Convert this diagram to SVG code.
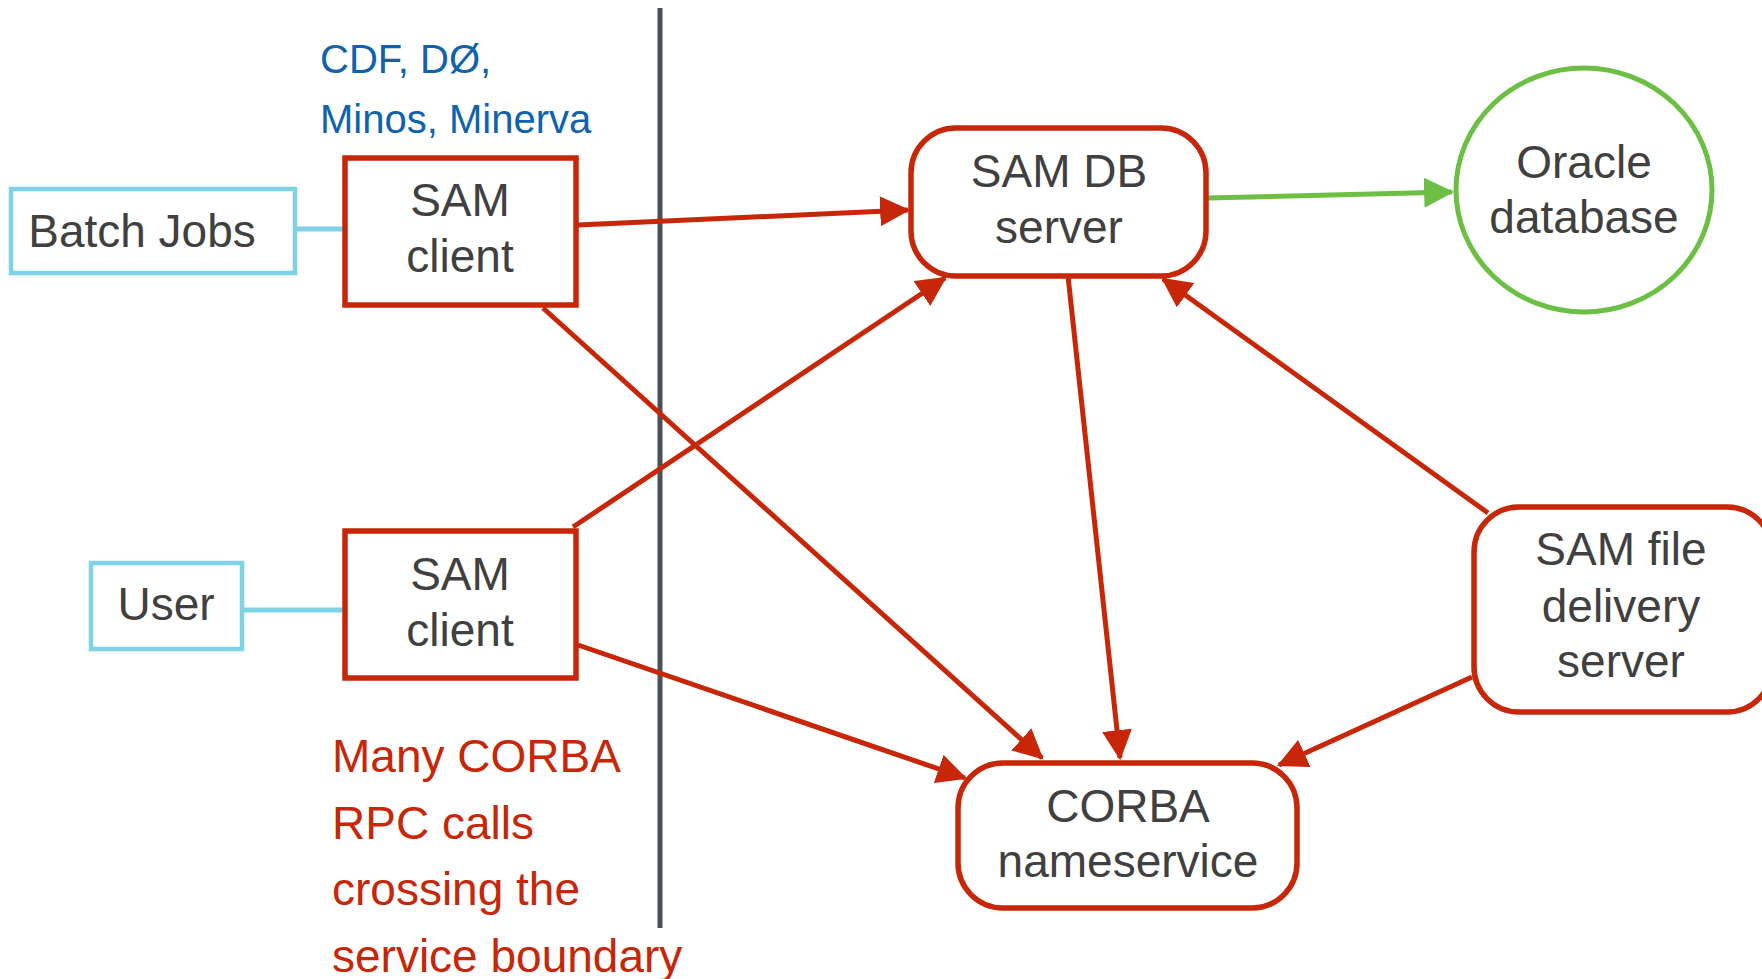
<svg xmlns="http://www.w3.org/2000/svg" width="1762" height="979" viewBox="0 0 1762 979">
<defs>
<marker id="ar" markerUnits="userSpaceOnUse" markerWidth="30" markerHeight="30" viewBox="0 0 28 28" refX="26" refY="14" orient="auto">
<path d="M0,0 L28,14 L0,28 z" fill="#c82608"/>
</marker>
<marker id="ag" markerUnits="userSpaceOnUse" markerWidth="30" markerHeight="30" viewBox="0 0 28 28" refX="26" refY="14" orient="auto">
<path d="M0,0 L28,14 L0,28 z" fill="#6cbf45"/>
</marker>
</defs>
<style>
text{font-family:"Liberation Sans",Arial,Helvetica,sans-serif;}
.nt{font-size:46px;fill:#404040;text-anchor:middle;}
.bb{fill:#fff;stroke:#7fd2e6;stroke-width:4.5;}
.rb{fill:#fff;stroke:#c82608;stroke-width:5.5;}
.e{stroke:#c82608;stroke-width:5;fill:none;marker-end:url(#ar);}
.bl{stroke:#7fd2e6;stroke-width:5;fill:none;}
.blue{font-size:40px;fill:#0f62ad;}
.red{font-size:46px;fill:#c82608;}
</style>
<rect width="1762" height="979" fill="#fff"/>
<line x1="660" y1="8" x2="660" y2="928" stroke="#4b4f57" stroke-width="5"/>
<g id="labels">
<text class="blue" x="320" y="73">CDF, DØ,</text>
<text class="blue" x="320" y="133">Minos, Minerva</text>
<text class="red" x="332" y="772">Many CORBA</text>
<text class="red" x="332" y="839">RPC calls</text>
<text class="red" x="332" y="905">crossing the</text>
<text class="red" x="332" y="972">service boundary</text>
</g>
<g id="connectors">
<line class="bl" x1="295" y1="229" x2="345" y2="229"/>
<line class="bl" x1="242" y1="610" x2="345" y2="610"/>
<line class="e" x1="578" y1="225" x2="908" y2="210"/>
<line class="e" x1="543" y1="308" x2="1042" y2="758"/>
<line class="e" x1="573" y1="527" x2="945" y2="278"/>
<line class="e" x1="578" y1="645" x2="965" y2="778"/>
<line class="e" x1="1068" y1="276" x2="1120" y2="758"/>
<line class="e" x1="1488" y1="513" x2="1163" y2="279"/>
<line class="e" x1="1472" y1="677" x2="1279" y2="765"/>
<line x1="1208" y1="198" x2="1452" y2="192" stroke="#6cbf45" stroke-width="5" marker-end="url(#ag)"/>
</g>
<g id="batch">
<rect class="bb" x="11" y="189" width="284" height="84"/>
<text class="nt" x="142" y="247">Batch Jobs</text>
</g>
<g id="user">
<rect class="bb" x="91" y="563" width="151" height="86"/>
<text class="nt" x="166" y="620">User</text>
</g>
<g id="samclient1">
<rect class="rb" x="345" y="158" width="231" height="147"/>
<text class="nt" x="460" y="216">SAM</text>
<text class="nt" x="460" y="272">client</text>
</g>
<g id="samclient2">
<rect class="rb" x="345" y="531" width="231" height="147"/>
<text class="nt" x="460" y="590">SAM</text>
<text class="nt" x="460" y="646">client</text>
</g>
<g id="samdb">
<rect class="rb" x="911" y="128" width="295" height="148" rx="45" ry="45"/>
<text class="nt" x="1059" y="187">SAM DB</text>
<text class="nt" x="1059" y="243">server</text>
</g>
<g id="oracle">
<ellipse cx="1584" cy="190" rx="128" ry="122" fill="#fff" stroke="#6cbf45" stroke-width="5"/>
<text class="nt" x="1584" y="178">Oracle</text>
<text class="nt" x="1584" y="233">database</text>
</g>
<g id="corba">
<rect class="rb" x="958" y="763" width="339" height="145" rx="45" ry="45"/>
<text class="nt" x="1128" y="822">CORBA</text>
<text class="nt" x="1128" y="877">nameservice</text>
</g>
<g id="samfile">
<rect class="rb" x="1474" y="507" width="298" height="205" rx="45" ry="45"/>
<text class="nt" x="1621" y="565">SAM file</text>
<text class="nt" x="1621" y="622">delivery</text>
<text class="nt" x="1621" y="677">server</text>
</g>
</svg>
